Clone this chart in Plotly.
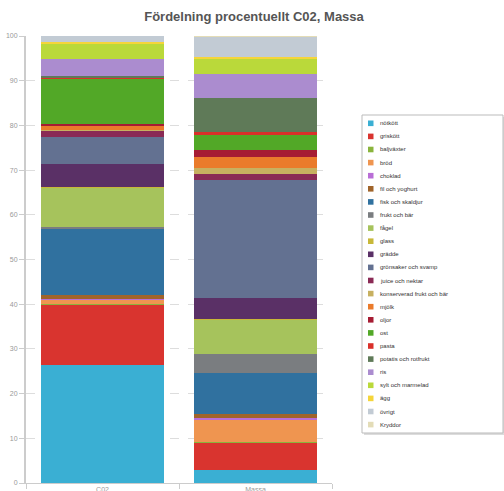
import plotly.graph_objects as go

title = "Fördelning procentuellt C02, Massa"
bars = ["C02", "Massa"]
categories = ["nötkött", "griskött", "baljväxter", "bröd", "choklad", "fil och yoghurt",
              "fisk och skaldjur", "frukt och bär", "fågel", "glass", "grädde",
              "grönsaker och svamp", "juice och nektar", "konserverad frukt och bär",
              "mjölk", "oljor", "ost", "pasta", "potatis och rotfrukt", "ris",
              "sylt och marmelad", "ägg", "övrigt", "Kryddor"]
c02_values = [26.4, 13.6, 0.05, 1.0, 0.05, 0.9, 14.9, 0.4, 8.7, 0.3, 5.1, 5.9, 1.6, 0.1,
              1.0, 0.25, 10.2, 0.2, 0.3, 3.9, 3.4, 0.45, 1.4, 0.15]
massa_values = [2.9, 6.1, 0.2, 5.1, 0.2, 1.0, 9.0, 4.4, 7.7, 0.1, 4.8, 26.3, 1.3, 1.4,
                2.5, 1.6, 3.2, 0.8, 7.6, 5.4, 3.3, 0.45, 4.45, 0.15]
y_ticks = [0, 10, 20, 30, 40, 50, 60, 70, 80, 90, 100]

colors = ["#3aafd3", "#d9342f", "#8ab43c", "#ef9550", "#b96ed6", "#a0642a",
          "#30719f", "#7a7d80", "#a6c35c", "#c8b839", "#5a3066", "#637191",
          "#8a2a55", "#c7b060", "#ea7b2b", "#a61c33", "#52a827", "#d9302a",
          "#5f7a58", "#ab8ccf", "#bad93a", "#f5d53a", "#c2cbd4", "#e3dcb7"]

fig = go.Figure()
for i, name in enumerate(categories):
    fig.add_trace(go.Bar(x=bars, y=[c02_values[i], massa_values[i]], name=name,
                         marker=dict(color=colors[i], line=dict(width=0)),
                         showlegend=False))

W, H = 504, 491
L, R, T, B = 26, 332, 36, 483
pw, ph = R - L, B - T

def px(x):
    return (x - L) / pw

def py(y):
    return (B - y) / ph

shapes = []
annotations = []
# legend box with shadow
bx0, by0, bx1, by1 = 362, 115, 503, 433
shapes.append(dict(type="rect", xref="paper", yref="paper",
                   x0=px(bx0 + 2), x1=px(bx1 + 2), y0=py(by1 + 2), y1=py(by0 + 2),
                   line=dict(width=0), fillcolor="#dcdcdc", layer="above"))
shapes.append(dict(type="rect", xref="paper", yref="paper",
                   x0=px(bx0), x1=px(bx1), y0=py(by1), y1=py(by0),
                   line=dict(width=1, color="#bbbbbb"), fillcolor="white", layer="above"))
y0 = 123.3
step = 13.1
for i, name in enumerate(categories):
    cy = y0 + i * step
    shapes.append(dict(type="rect", xref="paper", yref="paper",
                       x0=px(368), x1=px(373.5), y0=py(cy + 2.8), y1=py(cy - 2.8),
                       line=dict(width=0), fillcolor=colors[i], layer="above"))
    annotations.append(dict(xref="paper", yref="paper", x=px(378), y=py(cy),
                            xanchor="left", yanchor="middle", text=name, showarrow=False,
                            font=dict(size=6, color="#333333",
                                      family="Liberation Sans, Arial, sans-serif")))

fig.update_layout(
    width=W, height=H,
    margin=dict(l=L, r=W - R, t=T, b=H - B, autoexpand=False),
    barmode="stack", bargap=0.2,
    plot_bgcolor="white", paper_bgcolor="white",
    title=dict(text="<b>" + title + "</b>", x=0.504, xref="container", xanchor="center",
               y=1 - 16 / H, yref="container", yanchor="middle",
               font=dict(size=13, color="#555555",
                         family="Liberation Sans, Arial, sans-serif")),
    showlegend=False,
    shapes=shapes, annotations=annotations,
    font=dict(family="Liberation Sans, Arial, sans-serif"),
)
fig.update_xaxes(showline=True, linecolor="#cccccc", linewidth=1, ticks="outside",
                 tickson="boundaries", ticklen=5, tickcolor="#cccccc", automargin=False,
                 tickfont=dict(size=7, color="#999999"), showgrid=False)
fig.update_yaxes(range=[0, 100], tickvals=y_ticks, showline=True, linecolor="#cccccc",
                 linewidth=2, ticks="outside", ticklen=5, tickcolor="#cccccc",
                 automargin=False,
                 tickfont=dict(size=7, color="#999999"), showgrid=True,
                 gridcolor="#dddddd", griddash="dash", gridwidth=1, zeroline=False)

fig.write_html("out.html")
